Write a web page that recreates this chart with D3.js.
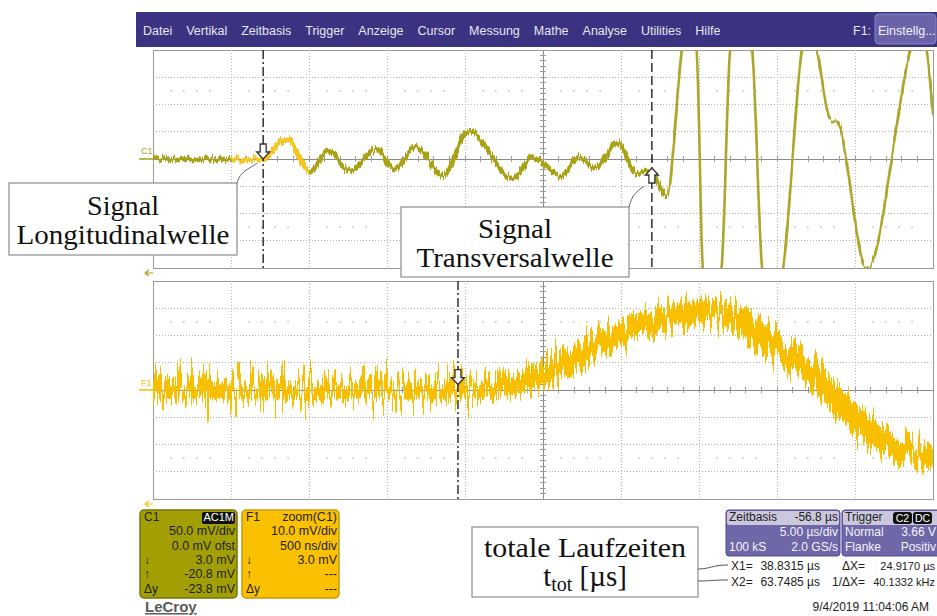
<!DOCTYPE html>
<html>
<head>
<meta charset="utf-8">
<script src="https://cdn.jsdelivr.net/npm/d3@7"></script>
<style>
  body { margin: 0; background: #fff; }
  svg { display: block; }
  .ui { font-family: 'Liberation Sans', Arial, sans-serif; font-size: 12px; }
  .note { font-family: 'Liberation Serif', 'Times New Roman', serif; font-size: 27px; fill: #111; }
</style>
</head>
<body>
<svg id="scope" width="937" height="616"></svg>
<script>
// menu
const menuItems = ['Datei', 'Vertikal', 'Zeitbasis', 'Trigger', 'Anzeige', 'Cursor', 'Messung', 'Mathe', 'Analyse', 'Utilities', 'Hilfe'];

// C1 trace (time in divisions, voltage in divisions)
const upperTime = [0, 0.7, 1.4, 1.72, 2.01, 2.23, 2.53, 2.87, 3.08, 3.38, 3.72, 4.04, 4.62, 4.87, 5.22, 5.47, 5.67, 5.95, 6.21, 6.37, 6.59, 6.78, 6.87, 6.97, 7.05, 7.17, 7.29, 7.40, 7.54, 7.68, 7.81, 7.94, 8.08, 8.32, 8.42, 8.51, 8.68, 8.77, 9.15, 9.71, 9.81, 9.92, 10];
const upperVolt = [0, 0, 0, 0.73, -0.48, 0.29, -0.44, 0.37, -0.37, 0.44, -0.62, 1.03, -0.73, 0.07, -0.62, 0.07, -0.33, 0.62, -0.55, -0.44, -1.36, 4.0, 5.5, 4.0, -4.0, -5.5, -4.0, 4.0, 5.5, 4.0, -4.0, -5.5, -4.0, 4.0, 5.0, 4.0, 1.47, 1.36, -4.05, 4.0, 5.0, 4.0, 1.6];
const upperSteepFrom = 6.6; // trace gets thin where it swings off screen (div)

// F1 zoom trace
const lowerTime = [0, 0.5, 1, 1.5, 2, 2.5, 3, 3.5, 4, 4.5, 5, 5.5, 6, 6.5, 7, 7.5, 8, 8.5, 9, 9.5, 10];
const lowerVolt = [0, 0.05, 0, 0.05, -0.05, 0.05, 0, 0, 0.05, 0.2, 0.55, 1.4, 2.05, 2.6, 2.9, 2.65, 1.5, 0.45, -1.05, -2.05, -2.4];
const lowerQuietFrom = 4.5; // noise is smaller after this time (div)

// cursors
const cursorTimes = [38.8315, 63.7485]; // µs
const screenStart = 31.77; // µs at left edge
const timePerDiv = 5; // µs/div
const lowerCursor = 3.91; // div
const zoomSpan = [1, 2]; // part of C1 shown in F1 (div)

// readouts
const c1Rows = [['C1', 'AC1M'], ['', '50.0 mV/div'], ['', '0.0 mV ofst'], ['↓', '3.0 mV'], ['↑', '-20.8 mV'], ['Δy', '-23.8 mV']];
const f1Rows = [['F1', 'zoom(C1)'], ['', '10.0 mV/div'], ['', '500 ns/div'], ['↓', '3.0 mV'], ['↑', '---'], ['Δy', '---']];
const timebaseRows = [['Zeitbasis', '-56.8 µs'], ['', '5.00 µs/div'], ['100 kS', '2.0 GS/s']];
const triggerRows = [['Trigger', ''], ['Normal', '3.66 V'], ['Flanke', 'Positiv']];
const cursorRows = [['X1=', '38.8315 µs', 'ΔX=', '24.9170 µs'], ['X2=', '63.7485 µs', '1/ΔX=', '40.1332 kHz']];
const dateText = '9/4/2019 11:04:06 AM';

const svg = d3.select('#scope');
const defs = svg.append('defs');

const xDiv = d3.scaleLinear().domain([0, 10]).range([153, 933]);
const yUp = d3.scaleLinear().domain([-4, 4]).range([268, 50]);
const yLow = d3.scaleLinear().domain([-4, 4]).range([499, 281]);

const olive = '#a8a214';
const yellow = '#f7bf00';

// noise look of the scope trace (vertical jitter only)
function addNoiseFilter(id, freq, scale, seed) {
  const f = defs.append('filter')
    .attr('id', id)
    .attr('x', '-2%').attr('y', '-50%')
    .attr('width', '104%').attr('height', '200%')
    .attr('color-interpolation-filters', 'sRGB');
  f.append('feTurbulence')
    .attr('type', 'fractalNoise')
    .attr('baseFrequency', freq + ' 0.01')
    .attr('numOctaves', 2)
    .attr('seed', seed)
    .attr('result', 'turb');
  f.append('feColorMatrix')
    .attr('in', 'turb')
    .attr('type', 'matrix')
    .attr('values', '0 0 0 0 0.5  0 1 0 0 0  0 0 0 0 0  0 0 0 0 1')
    .attr('result', 'map');
  f.append('feDisplacementMap')
    .attr('in', 'SourceGraphic')
    .attr('in2', 'map')
    .attr('scale', scale)
    .attr('xChannelSelector', 'R')
    .attr('yChannelSelector', 'G');
}
addNoiseFilter('noiseUp', 0.7, 11, 4);
addNoiseFilter('noiseLowA', 0.4, 75, 9);
addNoiseFilter('noiseLowB', 0.4, 48, 5);

// menu bar
svg.append('rect').attr('x', 136).attr('y', 12).attr('width', 801).attr('height', 35).attr('fill', '#3b3381');
let mx = 143;
menuItems.forEach(function(m) {
  const t = svg.append('text').attr('class', 'ui').attr('x', mx).attr('y', 35)
    .attr('fill', '#e6e6ef').style('font-size', '12.5px').text(m);
  mx += t.node().getComputedTextLength() + 14;
});
svg.append('text').attr('class', 'ui').attr('x', 853).attr('y', 35).attr('fill', '#e6e6ef').style('font-size', '12.5px').text('F1:');
svg.append('rect').attr('x', 875).attr('y', 14).attr('width', 61).attr('height', 30).attr('rx', 4)
  .attr('fill', '#6b63aa').attr('stroke', '#8b85c4');
svg.append('text').attr('class', 'ui').attr('x', 878).attr('y', 35).attr('fill', '#f2f2f8').style('font-size', '12.5px').text('Einstellg...');

function drawGrid(y) {
  const g = svg.append('g');
  const x0 = xDiv(0), x1 = xDiv(10), y0 = y(4), y1 = y(-4);
  g.append('rect').attr('x', x0).attr('y', y0).attr('width', x1 - x0).attr('height', y1 - y0)
    .attr('fill', '#fff').attr('stroke', '#9a9a9a').attr('shape-rendering', 'crispEdges');
  d3.range(1, 10).forEach(function(d) {
    g.append('line').attr('x1', xDiv(d)).attr('x2', xDiv(d)).attr('y1', y0).attr('y2', y1)
      .attr('stroke', d === 5 ? '#8a8a8a' : '#b4b4b4')
      .attr('stroke-dasharray', d === 5 ? null : '1,2')
      .attr('shape-rendering', 'crispEdges');
  });
  d3.range(-3, 4).forEach(function(v) {
    g.append('line').attr('x1', x0).attr('x2', x1).attr('y1', y(v)).attr('y2', y(v))
      .attr('stroke', v === 0 ? '#8a8a8a' : '#b4b4b4')
      .attr('stroke-dasharray', v === 0 ? null : '1,2')
      .attr('shape-rendering', 'crispEdges');
  });
  // minor ticks on the centre lines
  d3.range(0.2, 10, 0.2).forEach(function(d) {
    g.append('line').attr('x1', xDiv(d)).attr('x2', xDiv(d)).attr('y1', y(0) - 3).attr('y2', y(0) + 3)
      .attr('stroke', '#9a9a9a').attr('shape-rendering', 'crispEdges');
  });
  d3.range(-3.8, 4, 0.2).forEach(function(v) {
    g.append('line').attr('x1', xDiv(5) - 3).attr('x2', xDiv(5) + 3).attr('y1', y(v)).attr('y2', y(v))
      .attr('stroke', '#9a9a9a').attr('shape-rendering', 'crispEdges');
  });
  // faint readout dots
  [2.5, -2.5].forEach(function(v) {
    d3.range(0, 10).forEach(function(d) {
      [0.22, 0.38, 0.55, 0.72].forEach(function(o) {
        g.append('rect').attr('x', xDiv(d + o)).attr('y', y(v) - 1).attr('width', 2).attr('height', 2).attr('fill', '#d6d6d6');
      });
    });
  });
  return g;
}

drawGrid(yUp);
drawGrid(yLow);

// clip paths
function clipRect(id, d0, d1, y) {
  defs.append('clipPath').attr('id', id).append('rect')
    .attr('x', xDiv(d0)).attr('y', y(4)).attr('width', xDiv(d1) - xDiv(d0)).attr('height', y(-4) - y(4));
}
clipRect('clipUpA', 0, upperSteepFrom, yUp);
clipRect('clipUpB', upperSteepFrom, 10, yUp);
clipRect('clipZoom', zoomSpan[0], zoomSpan[1], yUp);
clipRect('clipLowA', 0, lowerQuietFrom, yLow);
clipRect('clipLowB', lowerQuietFrom, 10, yLow);

const upperData = upperTime.map(function(t, i) { return { x: t, y: upperVolt[i] }; });
const lowerData = lowerTime.map(function(t, i) { return { x: t, y: lowerVolt[i] }; });

const upperLine = d3.line().x(d => xDiv(d.x)).y(d => yUp(d.y)).curve(d3.curveMonotoneX);
const lowerLine = d3.line().x(d => xDiv(d.x)).y(d => yLow(d.y)).curve(d3.curveMonotoneX);

function tracePart(clip, line, data, color, width, filter) {
  svg.append('g').attr('clip-path', 'url(#' + clip + ')')
    .append('path').attr('d', line(data)).attr('fill', 'none')
    .attr('stroke', color).attr('stroke-width', width).attr('filter', 'url(#' + filter + ')');
}
// C1: noisy band, thin where it swings fast
tracePart('clipUpA', upperLine, upperData, olive, 4.5, 'noiseUp');
tracePart('clipUpB', upperLine, upperData, '#aca72a', 2.6, 'noiseUp');
tracePart('clipZoom', upperLine, upperData, '#fbc61c', 4.5, 'noiseUp');

// F1: noisier before the wave arrives, calmer band afterwards
tracePart('clipLowA', lowerLine, lowerData, yellow, 19, 'noiseLowA');
tracePart('clipLowB', lowerLine, lowerData, yellow, 22, 'noiseLowB');

// channel markers
svg.append('text').attr('class', 'ui').attr('x', 141).attr('y', yUp(0) - 5).attr('fill', olive).style('font-size', '9px').text('C1');
svg.append('line').attr('x1', 139).attr('x2', xDiv(0)).attr('y1', yUp(0)).attr('y2', yUp(0)).attr('stroke', olive).attr('stroke-width', 1.5);
svg.append('text').attr('class', 'ui').attr('x', 141).attr('y', yLow(0) - 4).attr('fill', yellow).style('font-size', '9px').text('F1');
svg.append('line').attr('x1', 139).attr('x2', xDiv(0)).attr('y1', yLow(0)).attr('y2', yLow(0)).attr('stroke', yellow).attr('stroke-width', 1.5);
[[yUp(-4) + 5, olive], [yLow(-4) + 5, yellow]].forEach(function(a) {
  svg.append('path').attr('d', 'M145,' + a[0] + ' l4,-3 M145,' + a[0] + ' l4,3 M145,' + a[0] + ' h8')
    .attr('stroke', a[1]).attr('stroke-width', 1.2).attr('fill', 'none');
});

// cursors
const cursorDiv = cursorTimes.map(t => (t - screenStart) / timePerDiv);
function cursorLine(xd, y, dash) {
  svg.append('line').attr('x1', xDiv(xd)).attr('x2', xDiv(xd)).attr('y1', y(4)).attr('y2', y(-4))
    .attr('stroke', '#111').attr('stroke-width', 1.3).attr('stroke-dasharray', dash);
}
cursorLine(cursorDiv[0], yUp, '9,3,2,3');
cursorLine(cursorDiv[1], yUp, '9,4');
cursorLine(lowerCursor, yLow, '9,3,2,3');

function arrow(x, tipY, dir) {
  // dir = 1 pointing down, -1 pointing up
  const s = dir;
  const p = 'M' + x + ',' + tipY +
    ' l6.5,' + (-7 * s) + ' h-3.5 v' + (-8 * s) + ' h-6 v' + (8 * s) + ' h-3.5 Z';
  svg.append('path').attr('d', p).attr('fill', '#fff').attr('stroke', '#333').attr('stroke-width', 1.3);
}
arrow(xDiv(cursorDiv[0]), yUp(0), 1);
arrow(xDiv(cursorDiv[1]), yUp(-0.33), -1);
arrow(xDiv(lowerCursor), yLow(0.2), 1);

// annotation boxes
function noteBox(x, y, w, h, lines) {
  svg.append('rect').attr('x', x).attr('y', y).attr('width', w).attr('height', h)
    .attr('fill', '#fff').attr('stroke', '#8c8c8c').attr('stroke-width', 1.2);
  lines.forEach(function(l) {
    svg.append('text').attr('class', 'note').attr('x', x + w / 2).attr('y', l[1])
      .attr('text-anchor', 'middle').attr('textLength', l[2]).attr('lengthAdjust', 'spacingAndGlyphs').text(l[0]);
  });
}
function connector(x0, y0, x1, y1) {
  svg.append('path')
    .attr('d', 'M' + x0 + ',' + y0 + ' C' + (x0 + 3) + ',' + (y0 - 12) + ' ' + (x1 - 8) + ',' + (y1 + 6) + ' ' + x1 + ',' + y1)
    .attr('fill', 'none').attr('stroke', '#666').attr('stroke-width', 1);
}
noteBox(9, 183, 228, 72, [['Signal', 215, 72], ['Longitudinalwelle', 244, 213]]);
connector(237, 183, xDiv(cursorDiv[0]) - 6, yUp(-0.15));
noteBox(401, 207, 228, 70, [['Signal', 238, 74], ['Transversalwelle', 267, 197]]);
connector(629, 207, xDiv(cursorDiv[1]) - 8, yUp(-1.0));

svg.append('rect').attr('x', 472).attr('y', 527).attr('width', 226).attr('height', 70)
  .attr('fill', '#fff').attr('stroke', '#8c8c8c').attr('stroke-width', 1.2);
svg.append('text').attr('class', 'note').attr('x', 585).attr('y', 557).attr('text-anchor', 'middle')
  .attr('textLength', 202).attr('lengthAdjust', 'spacingAndGlyphs').text('totale Laufzeiten');
const tt = svg.append('text').attr('class', 'note').attr('x', 585).attr('y', 586).attr('text-anchor', 'middle')
  .style('font-size', '29px');
tt.append('tspan').text('t');
tt.append('tspan').attr('dy', 5).style('font-size', '20px').text('tot');
tt.append('tspan').attr('dy', -5).text('  [µs]');

// bottom channel panels
function channelPanel(x, fill, border, rows, badge) {
  svg.append('rect').attr('x', x).attr('y', 510).attr('width', 97).attr('height', 88).attr('rx', 4)
    .attr('fill', fill).attr('stroke', border).attr('stroke-width', 1.5);
  rows.forEach(function(r, i) {
    const yy = 521 + i * 14.3;
    svg.append('text').attr('class', 'ui').attr('x', x + 4).attr('y', yy).attr('fill', '#1e1e1e').text(r[0]);
    if (i === 0 && badge) {
      svg.append('rect').attr('x', x + 62).attr('y', 512).attr('width', 33).attr('height', 12).attr('rx', 2).attr('fill', '#111');
      svg.append('text').attr('class', 'ui').attr('x', x + 94).attr('y', yy).attr('text-anchor', 'end')
        .attr('fill', '#fff').style('font-size', '11px').text(r[1]);
    } else {
      svg.append('text').attr('class', 'ui').attr('x', x + 95).attr('y', yy).attr('text-anchor', 'end')
        .attr('fill', '#1e1e1e').style('font-size', '12.5px').text(r[1]);
    }
  });
}
channelPanel(140, '#a29f05', '#77750a', c1Rows, true);
channelPanel(242, '#f9c100', '#c39a10', f1Rows, false);

svg.append('text').attr('class', 'ui').attr('x', 145).attr('y', 612).attr('fill', '#5a5a5a')
  .style('font-size', '15px').style('font-weight', 'bold').style('text-decoration', 'underline').text('LeCroy');

// timebase / trigger panels
function infoPanel(x, w, rows, rightX) {
  const g = svg.append('g');
  g.append('rect').attr('x', x).attr('y', 510).attr('width', w).attr('height', 46).attr('rx', 3)
    .attr('fill', '#6e67a8').attr('stroke', '#4f4892');
  g.append('rect').attr('x', x + 1).attr('y', 511).attr('width', w - 2).attr('height', 14).attr('rx', 2)
    .attr('fill', '#cbc8de');
  rows.forEach(function(r, i) {
    const yy = 521 + i * 15;
    const c = i === 0 ? '#222' : '#f4f4f8';
    g.append('text').attr('class', 'ui').attr('x', x + 3).attr('y', yy).attr('fill', c).text(r[0]);
    g.append('text').attr('class', 'ui').attr('x', rightX).attr('y', yy).attr('text-anchor', 'end').attr('fill', c).text(r[1]);
  });
  return g;
}
infoPanel(726, 114, timebaseRows, 838);
infoPanel(842, 110, triggerRows, 936);
[['C2', 893], ['DC', 913]].forEach(function(b) {
  svg.append('rect').attr('x', b[1]).attr('y', 512).attr('width', 19).attr('height', 12).attr('rx', 3).attr('fill', '#111');
  svg.append('text').attr('class', 'ui').attr('x', b[1] + 9.5).attr('y', 522).attr('text-anchor', 'middle')
    .attr('fill', '#fff').style('font-size', '10.5px').text(b[0]);
});

// cursor readouts
cursorRows.forEach(function(r, i) {
  const yy = 570 + i * 16;
  svg.append('text').attr('class', 'ui').attr('x', 731).attr('y', yy).attr('fill', '#222').text(r[0]);
  svg.append('text').attr('class', 'ui').attr('x', 820).attr('y', yy).attr('text-anchor', 'end').attr('fill', '#222').text(r[1]);
  svg.append('text').attr('class', 'ui').attr('x', 865).attr('y', yy).attr('text-anchor', 'end').attr('fill', '#222').text(r[2]);
  svg.append('text').attr('class', 'ui').attr('x', 935).attr('y', yy).attr('text-anchor', 'end').attr('fill', '#222')
    .style('font-size', '11px').text(r[3]);
});
svg.append('path').attr('d', 'M698,569 C710,569 712,565 728,565').attr('fill', 'none').attr('stroke', '#555');
svg.append('path').attr('d', 'M698,581 C710,581 712,580 728,580').attr('fill', 'none').attr('stroke', '#555');

svg.append('text').attr('class', 'ui').attr('x', 929).attr('y', 611).attr('text-anchor', 'end').attr('fill', '#222').text(dateText);
</script>
</body>
</html>
